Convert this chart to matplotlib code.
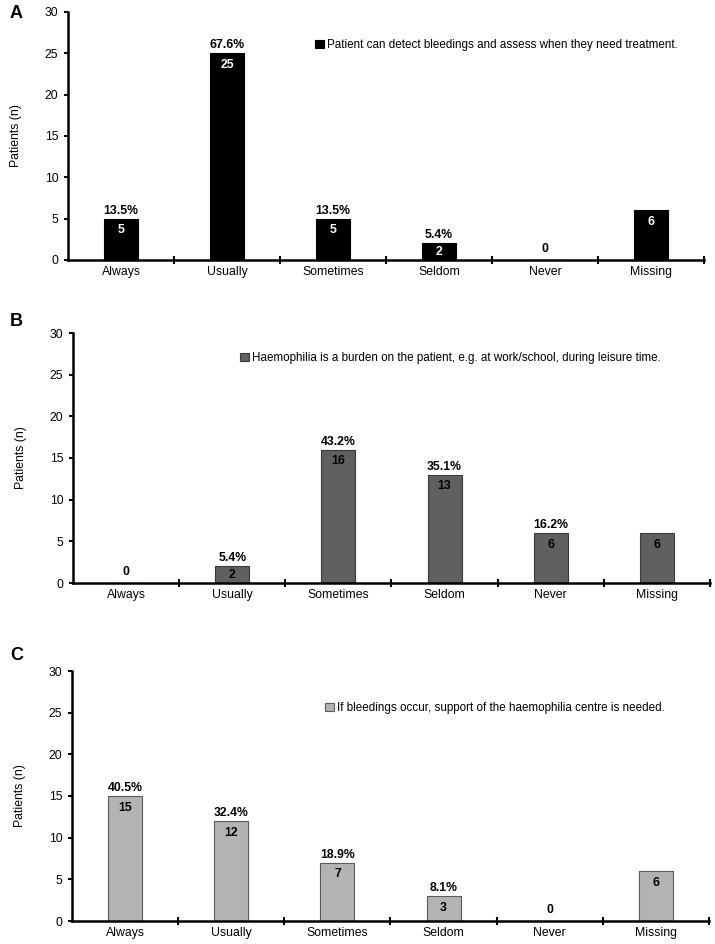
import matplotlib
matplotlib.use("Agg")
import matplotlib.pyplot as plt
from matplotlib.ticker import FixedLocator
from matplotlib.patches import Patch

plt.rcParams['font.family'] = ['Liberation Sans', 'DejaVu Sans']

categories = ["Always", "Usually", "Sometimes", "Seldom", "Never", "Missing"]
values_a = [5, 25, 5, 2, 0, 6]
values_b = [0, 2, 16, 13, 6, 6]
values_c = [15, 12, 7, 3, 0, 6]
pct_a = ["13.5%", "67.6%", "13.5%", "5.4%", "", ""]
pct_b = ["", "5.4%", "43.2%", "35.1%", "16.2%", ""]
pct_c = ["40.5%", "32.4%", "18.9%", "8.1%", "", ""]
legend_a = "Patient can detect bleedings and assess when they need treatment."
legend_b = "Haemophilia is a burden on the patient, e.g. at work/school, during leisure time."
legend_c = "If bleedings occur, support of the haemophilia centre is needed."
yticks = [0, 5, 10, 15, 20, 25, 30]

fig = plt.figure(figsize=(7.15, 9.44), dpi=100)

panels = [
    ("A", values_a, pct_a, legend_a, "#000000", "#000000", "white",
     [68/715, 1-260/944, 636/715, 248/944], (315/715, 1-45/944), (10/715, 1-14/944)),
    ("B", values_b, pct_b, legend_b, "#606060", "#3a3a3a", "black",
     [73/715, 1-583/944, 637/715, 250/944], (240/715, 1-358/944), (10/715, 1-321/944)),
    ("C", values_c, pct_c, legend_c, "#b3b3b3", "#5a5a5a", "black",
     [72/715, 1-921/944, 637/715, 250/944], (325/715, 1-708/944), (10/715, 1-656/944)),
]

for label, vals, pcts, leg, fc, ec, inner, rect, legpos, labpos in panels:
    ax = fig.add_axes(rect)
    x = list(range(len(categories)))
    ax.bar(x, vals, width=0.32, color=fc, edgecolor=ec, linewidth=0.8)
    ax.set_xlim(-0.5, 5.5)
    ax.set_ylim(0, 30)
    ax.set_yticks(yticks)
    ax.set_xticks(x)
    ax.set_xticklabels(categories, fontsize=8.8)
    ax.xaxis.set_minor_locator(FixedLocator([0.5, 1.5, 2.5, 3.5, 4.5, 5.5]))
    ax.tick_params(axis='x', which='major', length=0, pad=4)
    ax.tick_params(axis='x', which='minor', length=6, width=1.5, direction='inout')
    ax.tick_params(axis='y', which='major', length=3, width=1.5, direction='out', labelsize=8.8, pad=4)
    for s in ['top', 'right']:
        ax.spines[s].set_visible(False)
    for s in ['left', 'bottom']:
        ax.spines[s].set_linewidth(1.8)
    ax.set_ylabel("Patients (n)", fontsize=8.8, labelpad=16)
    for xi, v, p in zip(x, vals, pcts):
        if v == 0:
            ax.text(xi, 0.55, "0", ha='center', va='bottom', fontsize=8.8, fontweight='bold', color='black')
            continue
        ax.text(xi, v - min(1.4, v / 2), str(v), ha='center', va='center', fontsize=8.8,
                fontweight='bold', color=inner)
        if p:
            ax.text(xi, v + 0.25, p, ha='center', va='bottom', fontsize=8.8, fontweight='bold', color='black')
    handle = Patch(facecolor=fc, edgecolor=ec, linewidth=0.8)
    fig.legend([handle], [leg], loc='center left', bbox_to_anchor=legpos, frameon=False,
               fontsize=8.4, handlelength=0.75, handleheight=0.75, handletextpad=0.3, borderpad=0, borderaxespad=0)
    fig.text(labpos[0], labpos[1], label, ha='left', va='center', fontsize=13, fontweight='bold')

fig.savefig("out.png", dpi=100)
